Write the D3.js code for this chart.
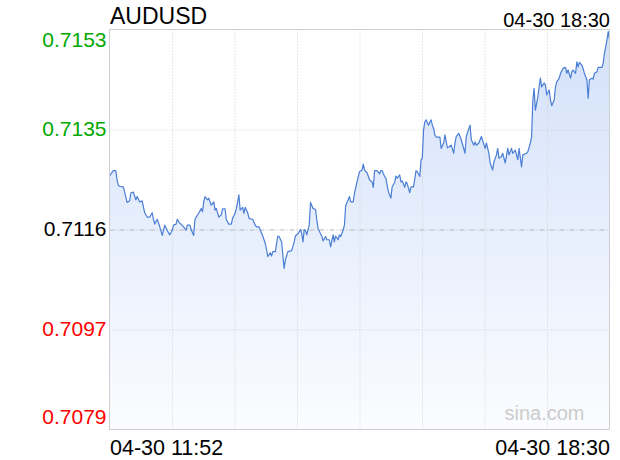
<!DOCTYPE html>
<html>
<head>
<meta charset="utf-8">
<script src="https://cdn.jsdelivr.net/npm/d3@7"></script>
<style>
body { margin: 0; background: #fff; }
text { font-family: "Liberation Sans", Arial, sans-serif; }
</style>
</head>
<body>
<svg width="620" height="460"></svg>
<script>
var symbol = "AUDUSD",
	startLabel = "04-30 11:52",
	endLabel = "04-30 18:30",
	totalMins = 398,       // 11:52 -> 18:30
	prevClose = 0.7116,
	yMin = 0.7079,
	yMax = 0.7153;

var yLabels = ["0.7153", "0.7135", "0.7116", "0.7097", "0.7079"];

// minutes after 11:52
var mins = [
	0,3,5,6,7,8,11,12,14,16,
	17,19,21,22,24,26,27,28,30,32,
	34,35,36,38,40,42,43,44,46,48,
	50,51,53,54,56,57,59,61,62,64,
	65,67,68,69,71,73,74,75,76,78,
	79,81,83,84,85,87,89,90,92,93,
	95,97,98,100,101,102,103,104,106,107,
	108,110,111,113,114,116,117,119,120,122,
	124,125,126,128,129,130,132,134,135,137,
	139,140,142,145,147,148,150,152,153,154,
	155,156,157,159,160,162,164,165,166,168,
	169,170,172,173,175,176,178,179,180,182,
	183,184,186,187,188,190,191,192,194,195,
	197,199,201,202,203,205,207,209,210,211,
	213,215,216,217,219,220,221,222,224,225,
	227,228,229,231,232,233,235,236,237,239,
	240,242,244,245,247,248,249,250,251,252,
	254,255,256,257,258,259,260,263,264,266,
	267,269,272,274,275,276,278,280,283,284,
	287,288,290,291,292,294,296,299,300,302,
	303,305,306,308,309,310,312,313,315,317,
	318,320,321,323,325,326,328,329,332,333,
	335,336,337,338,339,341,342,343,344,346,
	347,348,350,351,352,354,355,356,358,359,
	361,363,364,365,367,368,369,371,372,373,
	374,376,377,378,380,381,382,384,385,386,
	388,389,392,393,394,396,397,398
];

var prices = [
	0.71259,0.71269,0.71269,0.71252,0.71242,0.71240,0.71239,0.71230,0.71210,0.71213,
	0.71228,0.71229,0.71215,0.71221,0.71211,0.71213,0.71202,0.71191,0.71183,0.71183,
	0.71191,0.71179,0.71170,0.71179,0.71165,0.71149,0.71159,0.71168,0.71158,0.71150,
	0.71159,0.71168,0.71170,0.71179,0.71171,0.71170,0.71165,0.71159,0.71168,0.71168,
	0.71160,0.71149,0.71178,0.71183,0.71190,0.71199,0.71193,0.71211,0.71221,0.71215,
	0.71218,0.71205,0.71211,0.71196,0.71199,0.71183,0.71187,0.71198,0.71198,0.71178,
	0.71170,0.71170,0.71181,0.71190,0.71199,0.71211,0.71224,0.71196,0.71201,0.71190,
	0.71201,0.71191,0.71181,0.71179,0.71179,0.71168,0.71165,0.71165,0.71159,0.71148,
	0.71134,0.71123,0.71110,0.71117,0.71111,0.71119,0.71119,0.71148,0.71147,0.71137,
	0.71088,0.71104,0.71119,0.71121,0.71137,0.71148,0.71152,0.71160,0.71153,0.71137,
	0.71160,0.71158,0.71150,0.71168,0.71210,0.71199,0.71197,0.71178,0.71162,0.71152,
	0.71148,0.71139,0.71147,0.71141,0.71141,0.71128,0.71150,0.71137,0.71148,0.71141,
	0.71150,0.71147,0.71159,0.71168,0.71204,0.71215,0.71221,0.71211,0.71211,0.71227,
	0.71248,0.71267,0.71270,0.71281,0.71270,0.71265,0.71252,0.71248,0.71238,0.71269,
	0.71269,0.71263,0.71269,0.71269,0.71258,0.71255,0.71242,0.71230,0.71218,0.71239,
	0.71247,0.71259,0.71255,0.71261,0.71248,0.71250,0.71238,0.71248,0.71245,0.71228,
	0.71239,0.71239,0.71269,0.71267,0.71258,0.71289,0.71292,0.71344,0.71359,0.71363,
	0.71353,0.71359,0.71363,0.71353,0.71347,0.71335,0.71331,0.71331,0.71310,0.71320,
	0.71335,0.71311,0.71316,0.71301,0.71320,0.71332,0.71338,0.71326,0.71301,0.71332,
	0.71353,0.71326,0.71316,0.71322,0.71316,0.71320,0.71332,0.71310,0.71320,0.71301,
	0.71283,0.71270,0.71285,0.71298,0.71310,0.71292,0.71295,0.71301,0.71283,0.71310,
	0.71298,0.71310,0.71301,0.71307,0.71289,0.71310,0.71276,0.71298,0.71301,0.71304,
	0.71320,0.71332,0.71400,0.71421,0.71381,0.71406,0.71424,0.71440,0.71424,0.71431,
	0.71427,0.71409,0.71418,0.71400,0.71389,0.71400,0.71424,0.71433,0.71440,0.71449,
	0.71458,0.71460,0.71449,0.71455,0.71440,0.71452,0.71455,0.71449,0.71470,0.71461,
	0.71469,0.71464,0.71458,0.71449,0.71437,0.71403,0.71437,0.71440,0.71438,0.71449,
	0.71452,0.71460,0.71460,0.71468,0.71486,0.71511,0.71526,0.71511
];

var data = mins.map(function(m, i) { return {m: m, p: prices[i]}; });

var svg = d3.select("svg"),
	margin = {top: 29.5, left: 109.5},
	width = 500,
	height = 400,
	g = svg.append("g").attr("transform", "translate(" + margin.left + "," + margin.top + ")");

var x = d3.scaleLinear().domain([0, totalMins]).range([0, width]);
var y = d3.scaleLinear().domain([yMin, yMax]).range([height, 0]);

var grad = svg.append("defs").append("linearGradient")
	.attr("id", "fillGrad")
	.attr("gradientUnits", "userSpaceOnUse")
	.attr("x1", 0).attr("y1", 0)
	.attr("x2", 0).attr("y2", height);
grad.append("stop").attr("offset", "0").attr("stop-color", "#d3e1fa");
grad.append("stop").attr("offset", "1").attr("stop-color", "#fbfcff");

var area = d3.area()
	.x(function(d) { return x(d.m); })
	.y0(height)
	.y1(function(d) { return y(d.p); });
var line = d3.line()
	.x(function(d) { return x(d.m); })
	.y(function(d) { return y(d.p); });

g.append("path")
	.datum(data)
	.attr("fill", "url(#fillGrad)")
	.attr("d", area);

// vertical grid, 8 equal parts
g.append("g")
	.attr("class", "xgrid")
	.attr("transform", "translate(0," + height + ")")
	.call(d3.axisBottom(x)
		.tickValues(d3.range(1, 8).map(function(k) { return totalMins * k / 8; }))
		.tickSize(-height)
		.tickFormat(""))
	.call(function(a) { a.select(".domain").remove(); })
	.selectAll("line")
	.attr("stroke", "#d0d0d0")
	.attr("stroke-dasharray", "1,2");

// horizontal grid + price labels
var yVals = d3.range(5).map(function(i) { return yMax - i * (yMax - yMin) / 4; });
var yAxis = g.append("g")
	.attr("class", "yaxis")
	.call(d3.axisLeft(y)
		.tickValues(yVals)
		.tickSize(-width)
		.tickPadding(3)
		.tickFormat(function(d, i) { return yLabels[i]; }));
yAxis.select(".domain").remove();
yAxis.selectAll("line")
	.attr("stroke", function(d, i) { return i == 2 ? "#b8b8b8" : "#d0d0d0"; })
	.attr("stroke-dasharray", function(d, i) { return i == 2 ? "5,2,1,2" : "1,2"; })
	.attr("display", function(d, i) { return (i == 0 || i == 4) ? "none" : null; });
yAxis.selectAll("text")
	.attr("font-size", "21px")
	.attr("font-family", "Liberation Sans, Arial, sans-serif")
	.attr("fill", function(d, i) {
		var v = +yLabels[i];
		return v > prevClose ? "#00a800" : (v < prevClose ? "#f00" : "#000");
	})
	.attr("dy", function(d, i) { return i == 0 ? "0.8em" : (i == 4 ? "-0.3em" : "0.3em"); });

g.append("path")
	.datum(data)
	.attr("fill", "none")
	.attr("stroke", "#4a7ed5")
	.attr("stroke-width", 1.2)
	.attr("stroke-linejoin", "round")
	.attr("d", line);

g.append("rect")
	.attr("width", width)
	.attr("height", height)
	.attr("fill", "none")
	.attr("stroke", "#cfcfcf");

g.append("text")
	.attr("x", 475)
	.attr("y", 390.5)
	.attr("text-anchor", "end")
	.attr("font-size", "20px")
	.attr("fill", "#cccccc")
	.text("sina.com");

svg.append("text")
	.attr("x", 110).attr("y", 24)
	.attr("font-size", "23px")
	.text(symbol);
svg.append("text")
	.attr("x", 610).attr("y", 27)
	.attr("text-anchor", "end")
	.attr("font-size", "20px")
	.text(endLabel);
svg.append("text")
	.attr("x", 110).attr("y", 455)
	.attr("font-size", "21.5px")
	.text(startLabel);
svg.append("text")
	.attr("x", 610).attr("y", 455)
	.attr("text-anchor", "end")
	.attr("font-size", "21.5px")
	.text(endLabel);
</script>
</body>
</html>
